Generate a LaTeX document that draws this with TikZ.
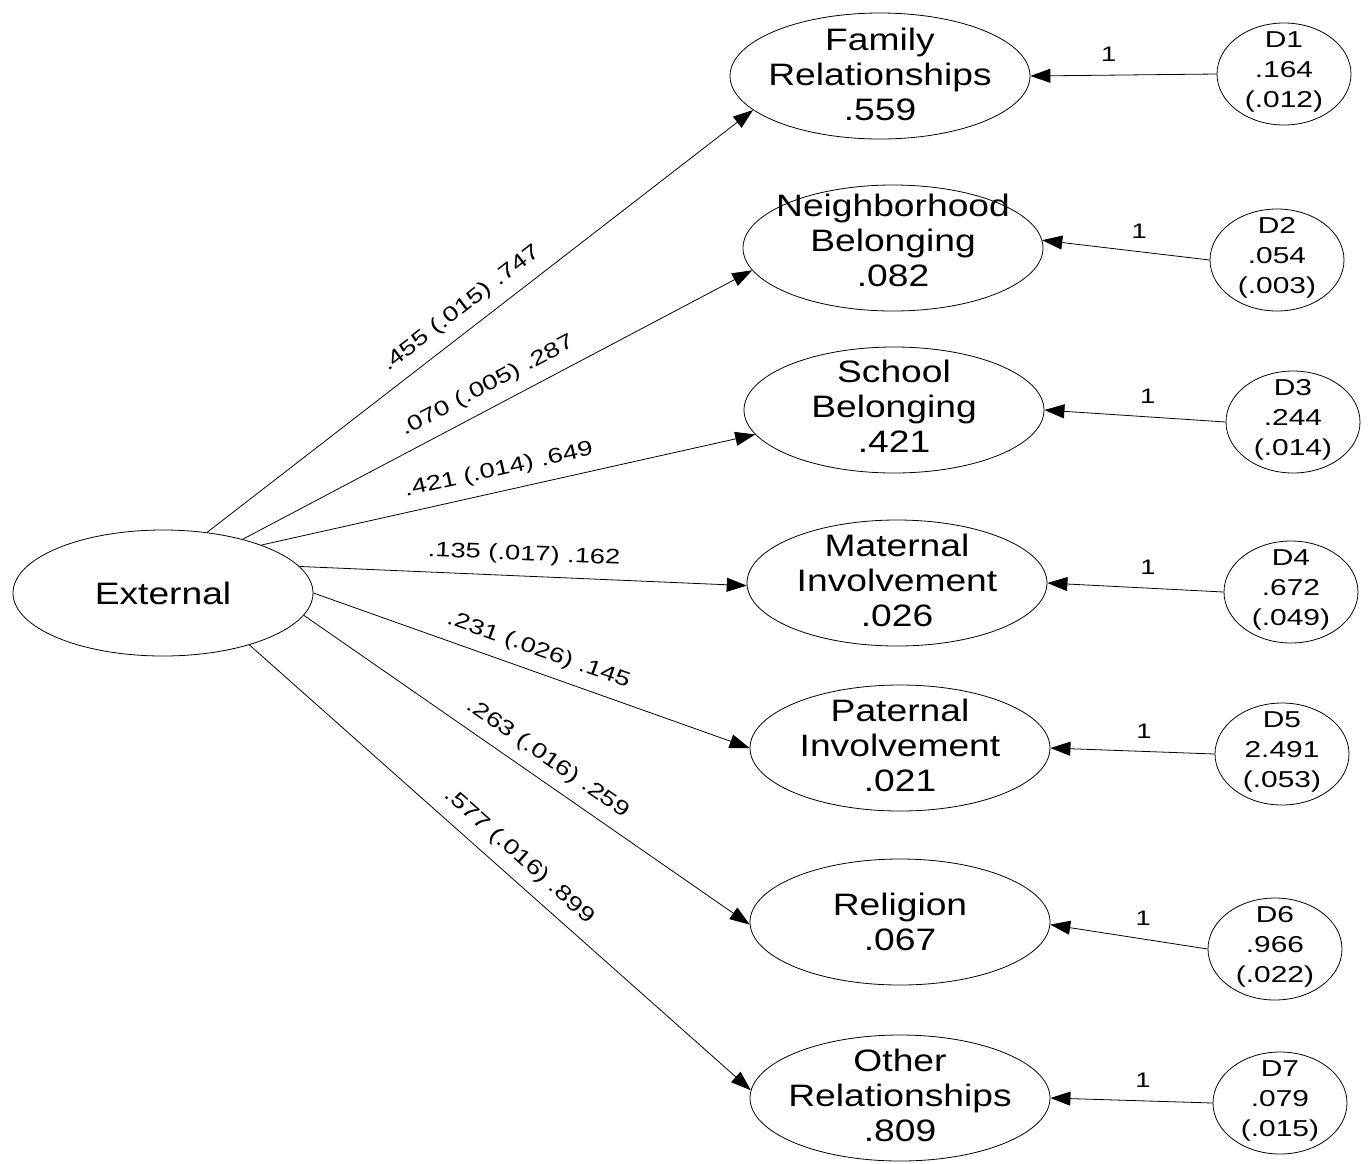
\documentclass[tikz,border=0pt]{standalone}
\usepackage{fontspec}
\setmainfont{Liberation Sans}
\newfontfamily\latfont{Liberation Sans}[FakeStretch=1.2]
\newfontfamily\errfont{Liberation Sans}[FakeStretch=1.3]
\newfontfamily\coeffont{Liberation Sans}[FakeStretch=1.3]
\usetikzlibrary{shapes.geometric,arrows.meta}

% centred multi-line text that does not enlarge the ellipse;
% the optional argument moves the block up or down
\newcommand\stacked[2][0pt]{\makebox[0pt]{\raisebox{#1}[0pt][0pt]{\begin{tabular}{@{}c@{}}#2\end{tabular}}}}

\tikzset{
  lat/.style={draw, ellipse, line width=0.8pt, inner sep=0pt,
    minimum width=300pt, minimum height=126pt,
    font=\latfont\fontsize{31}{35}\selectfont},
  errv/.style={draw, ellipse, line width=0.8pt, inner sep=0pt,
    minimum width=134pt, minimum height=102pt,
    font=\errfont\fontsize{23}{30}\selectfont},
  link/.style={line width=0.8pt, -{Triangle[length=20pt,width=14pt]}},
  coef/.style={sloped, above=8pt, inner sep=3pt,
    font=\coeffont\fontsize{21}{24}\selectfont},
  fixlabel/.style={above=10pt, inner sep=3pt,
    font=\coeffont\fontsize{21}{24}\selectfont},
}

\begin{document}
\begin{tikzpicture}[x=1pt, y=-1pt]
\useasboundingbox (0,0) rectangle (1369,1163);

% latent factor
\node[lat] (ext) at (163,593) {External};

% first-order factors
\node[lat] (fam) at (880,76)   {\stacked[-9pt]{Family\\Relationships\\.559}};
\node[lat] (nbh) at (893,248)  {\stacked[-3pt]{Neighborhood\\Belonging\\.082}};
\node[lat] (sch) at (894,410)  {\stacked[-7pt]{School\\Belonging\\.421}};
\node[lat] (mat) at (897,583)  {\stacked[-8pt]{Maternal\\Involvement\\.026}};
\node[lat] (pat) at (900,748)  {\stacked[-8pt]{Paternal\\Involvement\\.021}};
\node[lat] (rel) at (900,922)  {\stacked[-10pt]{Religion\\.067}};
\node[lat] (oth) at (900,1098) {\stacked[-8pt]{Other\\Relationships\\.809}};

% disturbances
\node[errv] (d1) at (1284,74)   {\stacked[-4pt]{D1\\.164\\(.012)}};
\node[errv] (d2) at (1277,260)  {\stacked[-4pt]{D2\\.054\\(.003)}};
\node[errv] (d3) at (1293,422)  {\stacked[-4pt]{D3\\.244\\(.014)}};
\node[errv] (d4) at (1291,592)  {\stacked[-4pt]{D4\\.672\\(.049)}};
\node[errv] (d5) at (1282,754)  {\stacked[-4pt]{D5\\2.491\\(.053)}};
\node[errv] (d6) at (1275,949)  {\stacked[-4pt]{D6\\.966\\(.022)}};
\node[errv] (d7) at (1280,1103) {\stacked[-4pt]{D7\\.079\\(.015)}};

% loadings
\draw[link] (ext.54.5)  -- node[coef, pos=0.49] {.455 (.015) .747} (fam.195.9);
\draw[link] (ext.34.3)  -- node[coef, pos=0.50] {.070 (.005) .287} (nbh.189.7);
\draw[link] (ext.26.8)  -- node[coef, pos=0.49] {.421 (.014) .649} (sch.190);
\draw[link] (ext.11.5)  -- node[coef, pos=0.50] {.135 (.017) .162} (mat.181.5);
\draw[link] (ext.0.8)   -- node[coef, pos=0.50] {.231 (.026) .145} (pat.180);
\draw[link] (ext.-9.4)  -- node[coef, pos=0.52] {.263 (.016) .259} (rel.181);
\draw[link] (ext.-31.8) -- node[coef, pos=0.51] {.577 (.016) .899} (oth.177);

% disturbance paths
\draw[link] (d1.west) -- node[fixlabel, pos=0.58] {1} (fam.east);
\draw[link] (d2.west) -- node[fixlabel, pos=0.42] {1} (nbh.3);
\draw[link] (d3.west) -- node[fixlabel, pos=0.43] {1} (sch.east);
\draw[link] (d4.west) -- node[fixlabel, pos=0.43] {1} (mat.east);
\draw[link] (d5.west) -- node[fixlabel, pos=0.43] {1} (pat.east);
\draw[link] (d6.west) -- node[fixlabel, pos=0.41] {1} (rel.-1);
\draw[link] (d7.west) -- node[fixlabel, pos=0.43] {1} (oth.east);
\end{tikzpicture}
\end{document}
